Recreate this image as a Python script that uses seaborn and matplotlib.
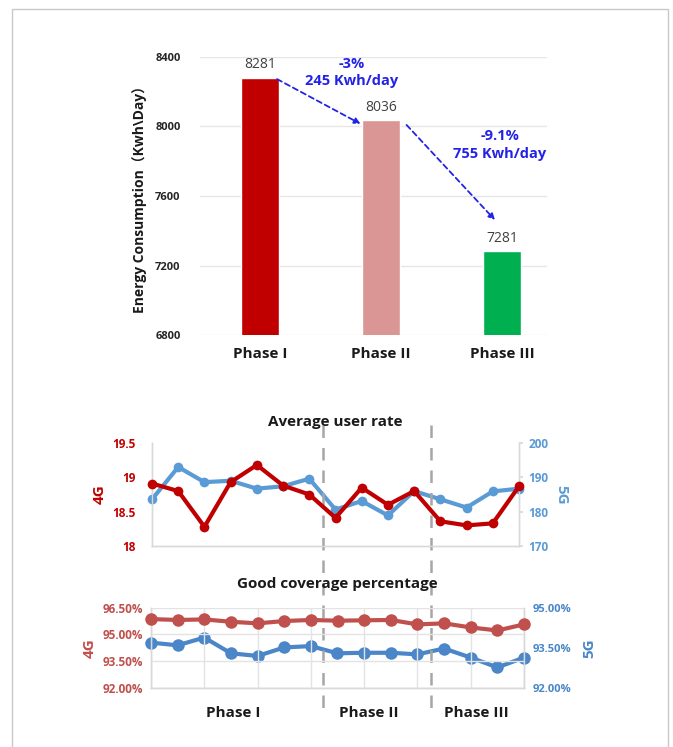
import matplotlib
matplotlib.use("Agg")
import matplotlib.pyplot as plt
import seaborn as sns
import numpy as np
import pandas as pd
from matplotlib.patches import Rectangle
from matplotlib.lines import Line2D
from matplotlib.ticker import FuncFormatter

# ---- data -------------------------------------------------------------
phases = ["Phase I", "Phase II", "Phase III"]
energy = [8281, 8036, 7281]
bar_colors = ["#C00000", "#D99694", "#00B050"]
saving_pct = ["-3%", "-9.1%"]
saving_kwh = ["245 Kwh/day", "755 Kwh/day"]

rate_4g = [18.91, 18.80, 18.28, 18.93, 19.18, 18.88, 18.75, 18.41,
           18.85, 18.60, 18.80, 18.36, 18.30, 18.33, 18.87]
rate_5g = [183.6, 193.0, 188.6, 189.0, 186.7, 187.4, 189.6, 180.6,
           183.1, 178.9, 186.0, 183.6, 181.2, 185.9, 186.7]

cov_4g = [95.86, 95.81, 95.84, 95.71, 95.62, 95.75, 95.81, 95.77,
          95.79, 95.81, 95.56, 95.62, 95.39, 95.22, 95.56]
cov_5g = [93.69, 93.59, 93.88, 93.29, 93.19, 93.51, 93.56, 93.29,
          93.31, 93.31, 93.25, 93.47, 93.13, 92.76, 93.13]

sns.set_theme(style="white")
plt.rcParams["font.family"] = ["Open Sans", "Noto Sans CJK SC", "DejaVu Sans"]

W, H = 673, 747
fig = plt.figure(figsize=(W / 100, H / 100), dpi=100)


def frac_box(x0, y0, x1, y1):
    """pixel box (left, top, right, bottom) -> figure fraction rect"""
    return [x0 / W, 1 - y1 / H, (x1 - x0) / W, (y1 - y0) / H]


# outer frame
fig.add_artist(Rectangle((12 / W, -0.02), 656 / W, 1 - 9 / H + 0.02,
                         transform=fig.transFigure, fill=False,
                         edgecolor="#C8C8C8", lw=1.0))

# ---- energy consumption bars -----------------------------------------
ax = fig.add_axes(frac_box(200, 57, 547, 335))
df_bar = pd.DataFrame({"phase": phases, "energy": energy})
sns.barplot(data=df_bar, x="phase", y="energy", hue="phase",
            palette=bar_colors, width=0.31, legend=False, ax=ax,
            saturation=1, zorder=3)
ax.set_ylim(6800, 8400)
ax.set_xlim(-0.496, 2.37)
ax.set_yticks(np.arange(6800, 8401, 400))
ax.grid(axis="y", color="#E6E6E6", lw=1, zorder=0)
ax.set_axisbelow(True)
for s in ax.spines.values():
    s.set_visible(False)
ax.tick_params(axis="both", length=0)
ax.tick_params(axis="y", labelsize=8, pad=14)
ax.tick_params(axis="x", labelsize=11, pad=9)
for t in ax.get_yticklabels():
    t.set_fontweight("bold")
    t.set_color("#262626")
for t in ax.get_xticklabels():
    t.set_fontweight("bold")
    t.set_color("#1A1A1A")
ax.set_xlabel("")
ax.set_ylabel("Energy Consumption（Kwh\\Day）", fontsize=10,
              fontweight="bold", color="#1A1A1A", labelpad=6)

for i, v in enumerate(energy):
    ax.text(i, v + 30, f"{v}", ha="center", va="bottom", fontsize=10,
            color="#404040")

blue = "#2323E6"
arrow_kw = dict(arrowstyle="-|>", color=blue, lw=1.3,
                linestyle=(0, (3, 2)), mutation_scale=9,
                shrinkA=0, shrinkB=0)
ax.annotate("", xy=(0.83, 8015), xytext=(0.14, 8273), arrowprops=arrow_kw)
ax.annotate("", xy=(1.94, 7462), xytext=(1.21, 8009), arrowprops=arrow_kw)
ax.text(0.76, 8362, saving_pct[0], ha="center", va="center", fontsize=10.5,
        fontweight="bold", color=blue)
ax.text(0.76, 8263, saving_kwh[0], ha="center", va="center", fontsize=10.5,
        fontweight="bold", color=blue)
ax.text(1.98, 7948, saving_pct[1], ha="center", va="center", fontsize=10.5,
        fontweight="bold", color=blue)
ax.text(1.98, 7840, saving_kwh[1], ha="center", va="center", fontsize=10.5,
        fontweight="bold", color=blue)

idx = np.arange(len(rate_4g))

# ---- average user rate -----------------------------------------------
red2, blue2 = "#C00000", "#5B9BD5"
ax2 = fig.add_axes(frac_box(152, 443, 519, 546))
ax2r = ax2.twinx()
sns.lineplot(x=idx, y=rate_4g, color=red2, lw=3, marker="o", markersize=7,
             markeredgewidth=0, ax=ax2, clip_on=False, zorder=3)
sns.lineplot(x=idx, y=rate_5g, color=blue2, lw=3, marker="o", markersize=7,
             markeredgewidth=0, ax=ax2r, clip_on=False, zorder=3)
ax2.set_xlim(0, 14)
ax2.set_ylim(18, 19.5)
ax2.set_yticks([18, 18.5, 19, 19.5])
ax2.set_yticklabels(["18", "18.5", "19", "19.5"])
ax2r.set_ylim(170, 200)
ax2r.set_yticks([170, 180, 190, 200])
ax2.set_xticks([])
for a in (ax2, ax2r):
    for s in a.spines.values():
        s.set_color("#D9D9D9")
        s.set_linewidth(1)
    a.spines["top"].set_visible(False)
ax2.tick_params(axis="y", length=0, labelsize=8.5, labelcolor=red2, pad=12)
ax2r.tick_params(axis="y", length=3, color="#D9D9D9", labelsize=8.5,
                 labelcolor=blue2, pad=4)
for t in ax2.get_yticklabels() + ax2r.get_yticklabels():
    t.set_fontweight("bold")
ax2.set_ylabel("4G", color=red2, fontsize=11, fontweight="bold", labelpad=4)
ax2r.set_ylabel("5G", color=blue2, fontsize=11, fontweight="bold",
                rotation=270, labelpad=14)
ax2.set_title("Average user rate", fontsize=11, fontweight="bold",
              color="#1A1A1A", pad=12)
ax2r.set_zorder(ax2.get_zorder() - 1)
ax2.patch.set_visible(False)

# ---- good coverage percentage ----------------------------------------
red3, blue3 = "#C0504D", "#4A86C8"
ax3 = fig.add_axes(frac_box(151, 607.7, 524, 687.7))
ax3r = ax3.twinx()
sns.lineplot(x=idx, y=cov_4g, color=red3, lw=3, marker="o", markersize=9,
             markeredgewidth=0, ax=ax3, clip_on=False, zorder=3)
sns.lineplot(x=idx, y=cov_5g, color=blue3, lw=3, marker="o", markersize=9,
             markeredgewidth=0, ax=ax3r, clip_on=False, zorder=3)
ax3.set_xlim(0, 14)
ax3.set_ylim(92, 96.5)
ax3.set_yticks([92, 93.5, 95, 96.5])
ax3r.set_ylim(92, 95)
ax3r.set_yticks([92, 93.5, 95])
pct = FuncFormatter(lambda v, p: f"{v:.2f}%")
ax3.yaxis.set_major_formatter(pct)
ax3r.yaxis.set_major_formatter(pct)
ax3.set_xticks(np.arange(0, 15, 2))
ax3.set_xticklabels([])
ax3.grid(True, color="#E3E3E3", lw=1)
for a in (ax3, ax3r):
    for s in a.spines.values():
        s.set_color("#D9D9D9")
        s.set_linewidth(1)
    a.spines["top"].set_visible(False)
ax3.tick_params(axis="both", length=0)
ax3.tick_params(axis="y", labelsize=8.5, labelcolor=red3, pad=6)
ax3r.tick_params(axis="y", length=0, labelsize=8, labelcolor=blue3, pad=6)
for t in ax3.get_yticklabels() + ax3r.get_yticklabels():
    t.set_fontweight("bold")
ax3.set_ylabel("4G", color=red3, fontsize=11, fontweight="bold", labelpad=4)
ax3r.set_ylabel("5G", color=blue3, fontsize=11, fontweight="bold",
                rotation=90, labelpad=8)
ax3.set_title("Good coverage percentage", fontsize=11, fontweight="bold",
              color="#1A1A1A", pad=14)
ax3r.set_zorder(ax3.get_zorder() - 1)
ax3.patch.set_visible(False)

# phase labels under the coverage chart
for label, xp in zip(phases, [233, 369, 476]):
    fig.text(xp / W, 1 - 713 / H, label, ha="center", va="center",
             fontsize=11, fontweight="bold", color="#1A1A1A")

# dashed phase separators spanning both line charts
for xp in (323, 431):
    fig.add_artist(Line2D([xp / W, xp / W], [1 - 425 / H, 1 - 708 / H],
                          transform=fig.transFigure, color="#A6A6A6",
                          lw=1.8, linestyle=(0, (5, 4)), zorder=0))

fig.savefig("out.png", dpi=100)
